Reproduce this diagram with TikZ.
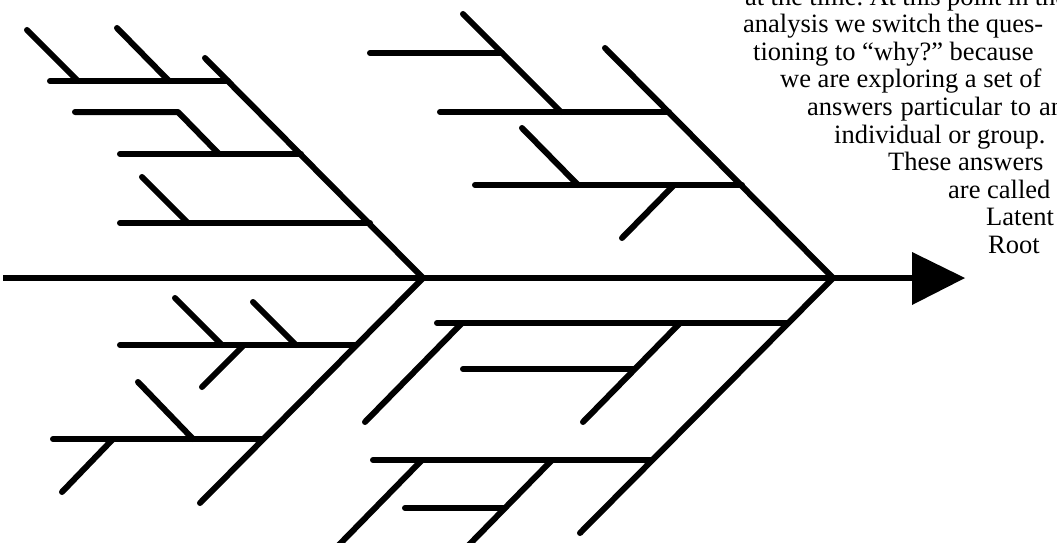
\documentclass[tikz,border=0pt]{standalone}
\usepackage{fontspec}
\setmainfont{Liberation Serif}
\begin{document}
\frenchspacing
\begin{tikzpicture}[x=1pt,y=-1pt,
  bone/.style={line width=6pt,line cap=round,line join=round},
  spine/.style={line width=6.5pt},
  txt/.style={anchor=base west,inner sep=0pt,font=\fontsize{26.5}{27.5}\selectfont}]
\useasboundingbox (0,0) rectangle (1057,543);
\clip (0,0) rectangle (1057,543);
% spine and head
\coordinate (tail) at (3,278);
\coordinate (J1) at (423,278);
\coordinate (J2) at (833,278);
\coordinate (ab) at (912,278);
\coordinate (at) at (912,252);
\coordinate (abt) at (912,305);
\coordinate (tip) at (965,278);
\draw[spine] (tail) -- (ab);
\fill (at) -- (tip) -- (abt) -- cycle;
% ---- upper left bone
\coordinate (L1) at (205,58);
\draw[bone] (L1) -- (J1);
\coordinate (h1a) at (50,81);  \coordinate (h1b) at (228,81);
\draw[bone] (h1a) -- (h1b);
\coordinate (s1a) at (27,30);  \coordinate (s1b) at (78,81);
\coordinate (s2a) at (117,28); \coordinate (s2b) at (169,81);
\draw[bone] (s1a) -- (s1b);
\draw[bone] (s2a) -- (s2b);
\coordinate (h2a) at (75,112); \coordinate (h2b) at (178,112); \coordinate (h2c) at (219,154);
\draw[bone] (h2a) -- (h2b) -- (h2c);
\coordinate (h3a) at (120,154); \coordinate (h3b) at (301,154);
\draw[bone] (h3a) -- (h3b);
\coordinate (s3a) at (142,177); \coordinate (s3b) at (188,223);
\draw[bone] (s3a) -- (s3b);
\coordinate (h4a) at (120,223); \coordinate (h4b) at (370,223);
\draw[bone] (h4a) -- (h4b);
% ---- upper right bone
\coordinate (R1) at (605,48);
\draw[bone] (R1) -- (J2);
\coordinate (t1a) at (370,53); \coordinate (t1b) at (502,53);
\draw[bone] (t1a) -- (t1b);
\coordinate (d1a) at (463,14); \coordinate (d1b) at (561,112);
\draw[bone] (d1a) -- (d1b);
\coordinate (t2a) at (440,112); \coordinate (t2b) at (669,112);
\draw[bone] (t2a) -- (t2b);
\coordinate (d2a) at (522,128); \coordinate (d2b) at (578,185);
\draw[bone] (d2a) -- (d2b);
\coordinate (t3a) at (475,185); \coordinate (t3b) at (742,185);
\draw[bone] (t3a) -- (t3b);
\coordinate (d3a) at (674,185); \coordinate (d3b) at (622,238);
\draw[bone] (d3a) -- (d3b);
% ---- lower left bone
\coordinate (L2) at (200,503);
\draw[bone] (J1) -- (L2);
\coordinate (b1a) at (120,345); \coordinate (b1b) at (356,345);
\draw[bone] (b1a) -- (b1b);
\coordinate (e1a) at (175,298); \coordinate (e1b) at (222,345);
\coordinate (e2a) at (253,302); \coordinate (e2b) at (296,345);
\draw[bone] (e1a) -- (e1b);
\draw[bone] (e2a) -- (e2b);
\coordinate (e3a) at (244,345); \coordinate (e3b) at (202,387);
\draw[bone] (e3a) -- (e3b);
\coordinate (e4a) at (138,382); \coordinate (e4b) at (193,439);
\draw[bone] (e4a) -- (e4b);
\coordinate (b2a) at (53,439); \coordinate (b2b) at (262,439);
\draw[bone] (b2a) -- (b2b);
\coordinate (e5a) at (113,439); \coordinate (e5b) at (62,492);
\draw[bone] (e5a) -- (e5b);
% ---- lower right bone
\coordinate (R2) at (580,533);
\draw[bone] (J2) -- (R2);
\coordinate (c1a) at (437,323); \coordinate (c1b) at (788,323);
\draw[bone] (c1a) -- (c1b);
\coordinate (f1a) at (462,323); \coordinate (f1b) at (365,422);
\draw[bone] (f1a) -- (f1b);
\coordinate (f2a) at (680,323); \coordinate (f2b) at (583,422);
\draw[bone] (f2a) -- (f2b);
\coordinate (c2a) at (463,369); \coordinate (c2b) at (634,369);
\draw[bone] (c2a) -- (c2b);
\coordinate (c3a) at (373,460); \coordinate (c3b) at (651,460);
\draw[bone] (c3a) -- (c3b);
\coordinate (f3a) at (422,460); \coordinate (f3b) at (332,552);
\draw[bone] (f3a) -- (f3b);
\coordinate (f4a) at (552,460); \coordinate (f4b) at (462,552);
\draw[bone] (f4a) -- (f4b);
\coordinate (c4a) at (405,508); \coordinate (c4b) at (504,508);
\draw[bone] (c4a) -- (c4b);
% ---- text
\node[txt] (l1) at (745,5.5) {\makebox[322pt][s]{at the time. At this point in the}};
\node[txt] (l2) at (743,33) {\makebox[300pt][s]{analysis we switch the ques-}};
\node[txt] (l3) at (753,60.5) {tioning to “why?” because};
\node[txt] (l4) at (780,88) {we are exploring a set of};
\node[txt] (l5) at (807,115.5) {\makebox[257pt][s]{answers particular to an}};
\node[txt] (l6) at (834,143) {individual or group.};
\node[txt] (l7) at (888,170.5) {These answers};
\node[txt] (l8) at (948,198) {are called};
\node[txt] (l9) at (986,225.5) {Latent};
\node[txt] (l10) at (988,253) {Root};
\end{tikzpicture}
\end{document}
